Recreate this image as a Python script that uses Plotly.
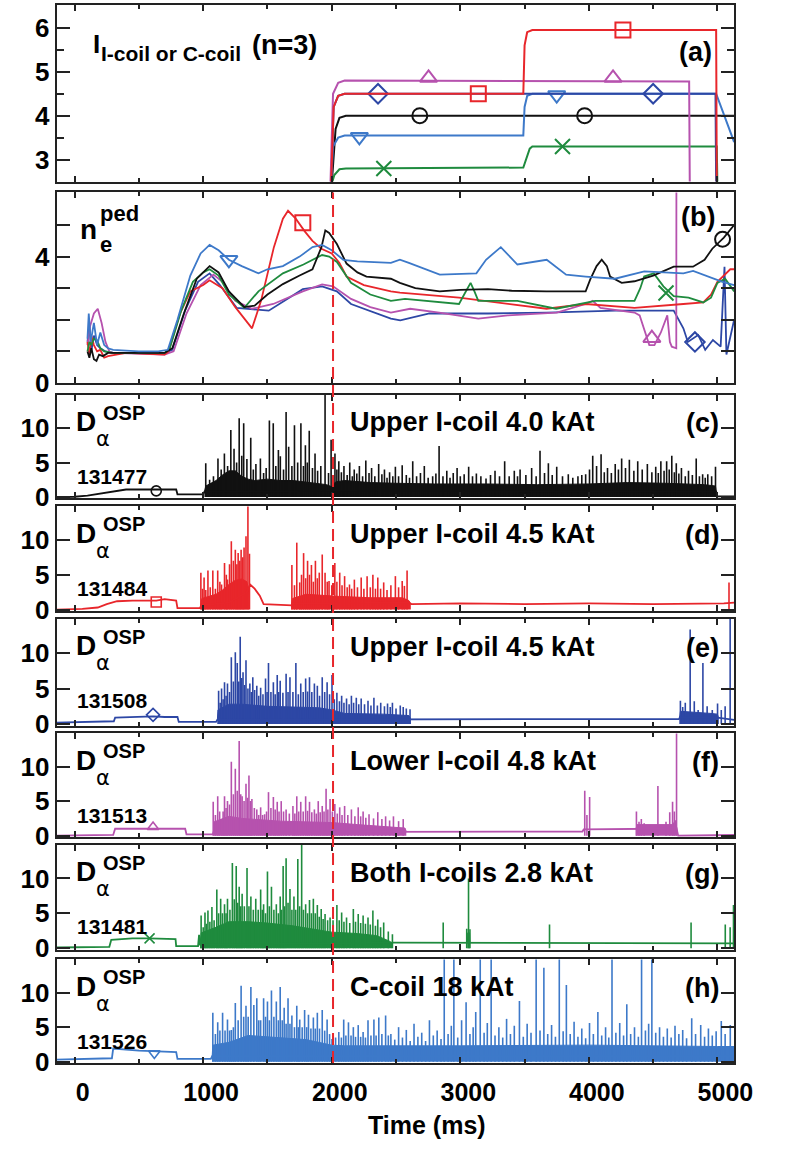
import plotly.graph_objects as go

W, H = 800, 1162

# ---------------- data ----------------
time_tick_vals = [0, 1000, 2000, 3000, 4000, 5000]
time_minor_vals = [500, 1500, 2500, 3500, 4500]
rmp_onset_ms = 2010

# (a) coil current (kA), n=3
a_131477_t = [2000, 2030, 2060, 2110, 5130]
a_131477_v = [2.45, 3.7, 3.95, 4.0, 4.0]
a_131484_t = [1995, 2015, 2050, 2100, 3490, 3500, 3520, 3560, 4990, 4995]
a_131484_v = [2.45, 4.2, 4.45, 4.5, 4.5, 5.6, 5.9, 5.95, 5.95, 2.4]
a_131508_t = [1995, 2015, 2050, 2100, 4985, 4990]
a_131508_v = [2.45, 4.2, 4.45, 4.5, 4.5, 2.4]
a_131513_t = [1990, 2010, 2050, 2100, 4780, 4785]
a_131513_v = [2.45, 4.5, 4.75, 4.8, 4.78, 2.4]
a_131481_t = [2000, 2020, 2060, 2110, 3490, 3540, 3560, 4995, 5000]
a_131481_v = [2.45, 2.65, 2.78, 2.8, 2.82, 3.25, 3.3, 3.3, 2.4]
a_131526_t = [1995, 2010, 2050, 2100, 3490, 3500, 3520, 3560, 4990, 5130]
a_131526_v = [2.45, 3.3, 3.5, 3.55, 3.55, 4.2, 4.45, 4.5, 4.5, 3.4]
a_131477_mk = [(2685, 4.0), (3967, 4.0)]
a_131484_mk = [(3140, 4.5), (4265, 5.95)]
a_131508_mk = [(2360, 4.5), (4500, 4.5)]
a_131513_mk = [(2753, 4.86), (4188, 4.86)]
a_131481_mk = [(2405, 2.8), (3795, 3.3)]
a_131526_mk = [(2215, 3.52), (3750, 4.47)]

# (b) pedestal density
b_131526 = [(100,1.4),(110,2.2),(125,1.3),(150,1.9),(175,1.2),(200,1.6),(230,1.2),(260,1.1),(300,1.05),(500,1.0),(650,1.0),(725,1.05),(800,2.0),(900,3.4),(980,4.1),(1050,4.37),(1120,4.2),(1200,3.9),(1300,3.7),(1430,3.47),(1500,3.6),(1620,3.7),(1750,4.0),(1850,4.3),(1925,4.37),(2000,4.2),(2090,3.9),(2200,3.85),(2460,3.8),(2530,3.9),(2600,3.8),(2840,3.43),(3125,3.47),(3200,3.9),(3315,4.3),(3444,3.75),(3672,3.9),(3823,3.43),(3975,3.37),(4203,3.3),(4431,3.53),(4735,3.47),(4811,3.55),(5039,3.2),(5130,3.1)]
b_131477 = [(100,1.0),(115,0.8),(130,1.1),(150,0.75),(170,0.7),(190,0.9),(220,0.85),(260,0.95),(400,0.95),(700,0.95),(760,1.1),(850,2.2),(950,3.3),(1050,3.7),(1120,3.5),(1200,2.9),(1320,2.4),(1400,2.45),(1500,2.8),(1620,3.13),(1750,3.4),(1850,3.6),(1920,4.3),(1950,4.83),(1980,4.75),(2040,4.4),(2115,3.78),(2200,3.5),(2270,3.37),(2460,3.3),(2530,3.17),(2650,3.0),(2840,2.9),(3000,2.95),(3215,2.97),(3400,2.92),(3670,2.9),(3975,2.9),(4010,3.27),(4060,3.7),(4100,3.9),(4140,3.7),(4165,3.37),(4255,3.17),(4355,3.22),(4500,3.4),(4660,3.68),(4810,3.68),(4900,3.9),(4960,4.25),(5050,4.6),(5130,5.0)]
b_131484 = [(100,1.3),(115,0.9),(130,1.5),(150,1.2),(175,1.0),(200,1.05),(230,0.8),(260,0.85),(400,0.95),(700,0.9),(730,1.0),(820,2.2),(900,2.9),(1000,3.1),(1050,3.25),(1150,3.0),(1250,2.4),(1380,1.73),(1450,2.6),(1550,4.3),(1620,5.2),(1660,5.45),(1720,5.2),(1790,4.8),(1850,4.5),(1920,4.25),(2000,4.1),(2060,3.8),(2115,3.37),(2250,3.1),(2460,2.9),(2530,2.86),(2990,2.7),(3370,2.5),(3670,2.35),(3975,2.5),(4355,2.38),(4735,2.5),(4890,2.55),(4950,2.8),(5000,3.2),(5100,3.6),(5130,3.6)]
b_131481 = [(100,1.0),(115,1.3),(130,1.2),(150,1.4),(175,1.35),(200,1.1),(230,1.0),(300,0.95),(700,0.95),(740,1.1),(830,2.3),(920,3.2),(1000,3.5),(1050,3.6),(1120,3.4),(1200,2.8),(1320,2.38),(1430,2.9),(1620,3.47),(1780,3.75),(1925,4.05),(1980,4.0),(2040,3.83),(2150,3.17),(2300,2.8),(2460,2.6),(2570,2.66),(2910,2.55),(2990,2.5),(3030,2.8),(3080,3.17),(3110,2.9),(3140,2.6),(3444,2.6),(3745,2.35),(4050,2.6),(4355,2.6),(4400,3.0),(4430,3.37),(4505,3.47),(4580,3.06),(4660,2.75),(4775,2.7),(4890,2.55),(4950,2.7),(5000,3.17),(5060,3.3),(5130,2.9)]
b_131513 = [(100,1.2),(120,1.8),(150,2.2),(180,2.35),(210,1.9),(240,1.3),(270,1.0),(300,0.95),(700,0.9),(770,1.0),(870,2.2),(980,3.1),(1080,3.43),(1150,3.2),(1250,2.6),(1380,2.35),(1545,2.5),(1775,2.9),(1925,3.12),(2010,3.06),(2150,2.66),(2300,2.4),(2460,2.23),(2610,2.35),(2836,2.23),(3140,2.04),(3370,2.14),(3750,2.23),(3975,2.5),(4030,2.6),(4090,2.38),(4355,2.23),(4395,2.14),(4470,1.2),(4510,1.2),(4560,1.6),(4610,2.14),(4630,1.3),(4645,1.15),(4680,1.1),(4681,6.5)]
b_131508 = [(100,1.3),(115,1.8),(130,1.0),(150,1.5),(175,1.2),(200,1.1),(240,1.0),(300,0.95),(700,0.95),(760,1.05),(860,2.3),(960,3.2),(1050,3.47),(1130,3.1),(1260,2.38),(1510,2.29),(1775,2.97),(1925,3.06),(2040,2.9),(2150,2.5),(2460,2.04),(2533,1.98),(2760,2.2),(3215,2.2),(3670,2.23),(4205,2.29),(4660,2.29),(4735,1.73),(4770,1.3),(4850,1.52),(4905,1.05),(4965,1.36),(5025,1.15),(5055,3.68),(5070,0.9),(5130,2.0)]
b_131526_mk = [(1200, 3.9)]
b_131477_mk = [(5040, 4.55)]
b_131484_mk = [(1775, 5.07)]
b_131481_mk = [(4600, 2.85)]
b_131513_mk = [(4490, 1.42)]
b_131508_mk = [(4825, 1.3)]

# (c)-(h) D-alpha: slow baseline, dense-ELM envelope segments, individual ELM peaks
c_base = [(-140,0.0),(0,0.05),(100,0.2),(200,0.5),(300,0.9),(400,1.1),(500,1.1),(635,1.1),(700,1.2),(790,1.1),(800,0.4),(1000,0.4),(1010,0.8),(2000,0.9),(4990,0.8),(5000,0.1),(5130,0.1)]
c_band = [[(1010,0.8),(1020,1.6),(1060,2.0),(1100,2.4),(1150,3.2),(1200,3.8),(1250,3.8),(1300,3.0),(1350,2.6),(1400,2.4),(1500,2.6),(1600,2.4),(1700,2.4),(1800,2.2),(1900,2.0),(1960,1.8),(2000,1.5),(2030,2.2),(2100,2.4),(2300,2.1),(2500,2.0),(2800,1.9),(3200,1.9),(3600,1.8),(4000,1.9),(4300,2.1),(4600,2.0),(4900,1.8),(4985,1.6),(4995,0.2)]]
c_elms = [(1020,4.9),(1050,2.5),(1080,3.0),(1115,5.6),(1140,4.0),(1165,6.3),(1190,4.5),(1215,9.7),(1240,7.0),(1260,5.0),(1280,11.4),(1300,6.0),(1315,10.7),(1340,5.5),(1370,8.6),(1390,4.0),(1410,4.8),(1445,5.6),(1470,3.5),(1490,4.2),(1515,11.1),(1545,10.7),(1565,4.5),(1585,6.8),(1600,5.9),(1625,4.0),(1645,12.3),(1665,7.3),(1690,4.5),(1710,10.4),(1735,5.0),(1760,10.7),(1780,4.5),(1795,7.5),(1810,5.0),(1825,9.6),(1850,4.2),(1870,6.3),(1890,3.8),(1915,4.5),(1948,15.0),(1975,3.5),(1995,8.3),(2025,6.3),(2040,4.0),(2055,5.2),(2075,3.6),(2095,4.5),(2120,3.2),(2140,5.0),(2160,3.0),(2175,4.0),(2195,3.4),(2215,4.5),(2240,3.0),(2265,5.3),(2290,3.5),(2310,4.2),(2335,3.0),(2365,4.8),(2390,3.3),(2410,4.0),(2430,2.8),(2450,3.6),(2475,3.0),(2495,4.4),(2520,3.0),(2548,4.6),(2580,3.2),(2605,2.8),(2630,5.2),(2660,3.0),(2690,3.5),(2720,4.5),(2750,2.8),(2785,3.0),(2810,3.4),(2835,7.4),(2865,3.0),(2895,3.8),(2920,2.8),(2945,3.5),(2975,4.2),(3000,3.0),(3030,3.3),(3065,4.4),(3095,3.0),(3125,3.4),(3160,3.0),(3200,2.7),(3235,3.2),(3270,3.8),(3305,3.0),(3345,5.2),(3380,3.0),(3420,3.8),(3445,3.0),(3465,4.0),(3510,3.2),(3555,4.2),(3590,3.0),(3620,6.7),(3655,3.5),(3685,4.9),(3715,3.2),(3750,4.4),(3795,3.0),(3840,3.3),(3875,2.8),(3915,3.0),(3945,3.2),(3975,3.3),(4005,4.0),(4030,6.0),(4060,4.5),(4095,6.2),(4120,3.6),(4145,4.2),(4175,3.5),(4205,4.8),(4230,4.0),(4255,5.6),(4285,4.2),(4315,5.4),(4350,3.8),(4380,5.2),(4415,4.0),(4455,4.8),(4490,3.6),(4520,4.4),(4540,3.5),(4560,5.2),(4585,3.8),(4605,5.2),(4625,4.0),(4645,6.0),(4665,3.6),(4680,4.9),(4700,3.4),(4720,4.2),(4750,3.0),(4775,3.8),(4805,3.2),(4835,5.6),(4860,3.0),(4885,3.3),(4905,2.8),(4925,3.3),(4955,3.0),(4985,4.4)]
c_mk = (635, 0.9)

d_base = [(-140,0.0),(60,0.1),(180,0.3),(250,0.8),(330,1.2),(450,1.3),(635,1.3),(700,1.5),(790,1.3),(800,0.2),(975,0.2),(985,0.6),(1200,1.0),(1340,2.5),(1365,3.6),(1400,3.0),(1440,2.0),(1470,0.8),(1690,0.6),(1700,0.9),(2600,1.0),(2620,0.8),(3000,0.9),(3500,0.8),(4000,0.9),(4500,0.8),(5050,0.9),(5130,1.0)]
d_band = [[(980,0.5),(990,1.6),(1100,2.2),(1150,2.8),(1200,3.6),(1250,4.2),(1300,4.4),(1340,4.0),(1352,3.0),(1356,0.5)],
          [(1685,0.5),(1695,1.6),(1800,2.2),(1950,2.0),(2050,1.9),(2300,1.7),(2550,1.7),(2600,1.3),(2615,0.8)]]
d_elms = [(982,5.3),(995,3.0),(1007,4.6),(1020,2.8),(1037,5.6),(1055,3.2),(1075,5.6),(1095,3.0),(1113,5.6),(1130,4.0),(1143,3.6),(1166,6.7),(1180,5.0),(1189,4.3),(1205,6.5),(1219,9.8),(1235,7.0),(1250,8.6),(1262,6.5),(1272,8.1),(1285,7.0),(1295,8.6),(1308,7.5),(1318,8.9),(1333,10.5),(1348,15.0),(1360,8.0),(1690,6.4),(1710,3.5),(1728,9.6),(1751,3.9),(1765,5.0),(1781,8.1),(1797,4.5),(1812,7.0),(1827,5.0),(1842,6.4),(1857,4.0),(1873,7.0),(1888,4.5),(1903,5.3),(1926,7.9),(1948,5.3),(1965,4.0),(1979,4.1),(2000,3.5),(2024,6.7),(2040,4.0),(2062,5.3),(2080,3.5),(2100,4.8),(2120,3.2),(2138,3.6),(2155,3.0),(2176,4.3),(2200,3.2),(2229,4.6),(2250,3.0),(2275,4.8),(2300,3.2),(2320,5.0),(2340,3.0),(2358,4.6),(2380,3.0),(2404,3.9),(2430,2.8),(2460,3.5),(2495,4.8),(2520,3.2),(2548,4.1),(2565,3.4),(2586,5.6),(5090,3.9)]
d_mk = (635, 1.1)

e_base = [(-140,0.2),(200,0.3),(305,0.4),(315,0.9),(500,1.0),(610,1.1),(700,1.0),(800,1.0),(810,0.3),(1100,0.3),(1110,0.6),(2620,0.7),(3500,0.7),(4700,0.7),(4710,1.0),(5000,0.9),(5130,0.6)]
e_band = [[(1110,0.5),(1115,2.0),(1200,2.8),(1300,2.8),(1500,2.5),(1900,2.3),(2000,2.0),(2100,1.5),(2400,1.4),(2600,1.2),(2615,0.7)],
          [(4705,0.8),(4712,1.8),(4950,1.5),(5000,1.4),(5010,0.8)]]
e_elms = [(1120,4.7),(1132,3.0),(1143,5.0),(1155,3.5),(1166,5.9),(1178,4.0),(1189,5.7),(1205,4.5),(1219,9.4),(1235,6.0),(1250,10.1),(1265,8.6),(1277,6.0),(1288,12.3),(1300,6.5),(1310,7.3),(1322,5.5),(1333,9.0),(1348,5.0),(1363,5.7),(1375,4.5),(1386,6.6),(1400,4.8),(1417,5.4),(1432,4.0),(1447,5.1),(1465,4.2),(1485,6.4),(1497,4.5),(1508,8.6),(1527,4.5),(1546,5.9),(1560,4.2),(1576,6.9),(1588,4.5),(1599,6.1),(1620,4.4),(1645,7.1),(1660,4.5),(1675,6.6),(1698,4.5),(1721,8.6),(1740,4.2),(1759,5.7),(1778,4.5),(1797,6.4),(1812,4.6),(1827,6.6),(1845,4.5),(1865,5.7),(1888,5.4),(1905,4.0),(1926,6.6),(1945,4.5),(1964,5.9),(1983,4.2),(2002,6.9),(2020,3.5),(2040,4.4),(2060,3.2),(2077,4.0),(2095,3.0),(2115,3.6),(2135,2.8),(2153,4.0),(2170,3.0),(2191,3.7),(2210,2.8),(2229,3.6),(2255,2.8),(2282,3.3),(2305,2.6),(2328,3.7),(2355,2.6),(2381,3.0),(2410,2.5),(2434,2.9),(2455,2.4),(2472,3.0),(2500,2.2),(2533,2.6),(2556,2.4),(2580,2.2),(2609,2.1),(4712,3.3),(4730,2.4),(4750,3.0),(4788,13.3),(4820,3.2),(4850,2.0),(4887,8.6),(4920,2.5),(4960,2.0),(5001,2.9),(5030,2.0),(5060,2.5),(5099,15.0)]
e_mk = (610, 1.3)

f_base = [(-140,0.0),(300,0.1),(315,1.0),(500,1.0),(610,1.1),(700,1.1),(860,1.0),(870,0.2),(1075,0.2),(1080,0.5),(2580,0.6),(3950,0.6),(3960,0.9),(4350,0.9),(4500,1.0),(4680,1.2),(4695,0.0),(5130,0.1)]
f_band = [[(1080,0.5),(1085,2.0),(1200,2.8),(1300,2.5),(1600,2.1),(2000,1.9),(2200,1.6),(2450,1.3),(2570,1.1),(2580,0.6)],
          [(4365,0.9),(4375,1.6),(4650,1.6),(4675,2.2),(4690,0.2)]]
f_elms = [(1078,4.9),(1095,3.0),(1113,5.7),(1128,3.5),(1143,2.4),(1155,3.5),(1166,5.7),(1178,4.0),(1189,5.0),(1205,4.5),(1219,10.7),(1235,6.0),(1250,9.7),(1265,6.5),(1280,13.7),(1292,6.0),(1303,5.7),(1318,5.0),(1333,7.5),(1345,5.5),(1356,8.7),(1368,5.0),(1379,5.3),(1398,4.0),(1417,3.8),(1432,3.0),(1447,4.1),(1462,3.0),(1478,3.1),(1493,3.5),(1508,6.3),(1527,4.0),(1546,5.6),(1560,3.8),(1576,4.9),(1590,3.5),(1607,5.0),(1625,3.5),(1645,3.8),(1670,3.2),(1698,4.3),(1713,3.2),(1728,5.7),(1743,3.5),(1759,4.9),(1778,3.5),(1797,5.7),(1812,3.6),(1827,4.9),(1845,3.4),(1865,3.8),(1880,3.2),(1895,5.0),(1910,3.4),(1926,4.3),(1940,3.5),(1956,6.8),(1970,3.8),(1987,5.3),(2005,3.5),(2024,4.6),(2043,3.2),(2062,4.1),(2080,3.0),(2100,4.3),(2125,3.0),(2153,3.8),(2180,2.8),(2206,4.1),(2225,2.8),(2244,3.5),(2265,2.6),(2290,3.1),(2325,2.5),(2358,3.4),(2390,2.4),(2419,2.8),(2450,2.2),(2480,2.8),(2520,2.1),(2556,2.4),(3968,6.5),(3985,3.0),(4006,5.6),(4370,3.5),(4390,2.0),(4408,2.4),(4430,1.8),(4537,7.2),(4600,2.0),(4629,3.4),(4651,4.9),(4665,3.5),(4682,15.0)]
f_mk = (610, 1.25)

g_base = [(-140,0.1),(270,0.2),(285,1.2),(450,1.4),(580,1.4),(700,1.3),(785,1.3),(790,0.3),(960,0.3),(968,1.9),(975,0.5),(2480,0.8),(5130,0.7)]
g_band = [[(975,0.5),(985,2.2),(1100,3.0),(1200,3.8),(1350,3.8),(1500,3.6),(1700,3.2),(1900,2.6),(2000,2.3),(2200,2.1),(2350,1.8),(2450,1.0),(2470,0.7)],
          [(3055,0.7),(3058,2.2),(3072,2.2),(3075,0.7)]]
g_elms = [(984,4.7),(1000,3.0),(1014,5.1),(1025,3.5),(1037,5.4),(1052,3.8),(1068,5.9),(1085,4.0),(1106,8.4),(1120,5.0),(1136,7.1),(1150,5.0),(1166,6.3),(1178,5.0),(1189,7.1),(1208,5.5),(1227,12.2),(1242,7.0),(1257,11.8),(1268,6.5),(1280,8.8),(1292,6.0),(1303,7.8),(1320,6.0),(1341,11.5),(1356,6.0),(1371,7.4),(1390,5.5),(1409,7.1),(1428,5.5),(1447,8.4),(1460,5.5),(1470,6.3),(1485,5.0),(1500,11.0),(1515,6.0),(1531,8.8),(1550,5.5),(1569,6.3),(1585,5.0),(1599,7.4),(1610,5.5),(1622,11.8),(1633,6.0),(1645,12.9),(1660,6.5),(1675,8.5),(1690,5.5),(1706,7.4),(1720,5.5),(1736,12.8),(1750,6.0),(1766,15.0),(1780,5.5),(1797,6.3),(1812,5.0),(1827,6.9),(1842,5.0),(1857,7.1),(1872,5.0),(1888,6.2),(1903,4.5),(1918,5.6),(1933,4.2),(1948,4.9),(1968,4.0),(1987,4.4),(2010,4.0),(2040,6.2),(2058,4.0),(2077,5.1),(2095,3.8),(2115,4.4),(2140,3.6),(2168,5.6),(2185,3.8),(2206,4.9),(2225,3.6),(2244,4.7),(2262,3.5),(2282,4.4),(2300,3.4),(2320,5.4),(2340,3.2),(2358,4.1),(2380,3.0),(2404,3.7),(2440,2.4),(2472,2.0),(2867,3.7),(3050,2.8),(3064,10.0),(3075,2.7),(3694,3.4),(4795,3.7),(5061,3.4),(5099,3.0),(5125,6.2)]
g_mk = (583, 1.4)

h_base = [(-140,0.3),(0,0.4),(290,0.5),(300,1.9),(400,1.7),(500,1.6),(650,1.5),(790,1.4),(800,0.4),(1060,0.4),(1070,0.8),(5130,0.8)]
h_band = [[(1070,0.8),(1075,2.4),(1200,2.8),(1350,3.8),(1500,3.6),(1800,3.2),(2000,2.4),(2100,2.3),(3000,2.3),(4000,2.4),(5000,2.2),(5130,2.2)]]
h_elms = [(1075,7.1),(1095,4.0),(1113,5.7),(1130,4.5),(1151,7.1),(1170,4.5),(1189,6.1),(1205,4.5),(1219,4.6),(1235,5.0),(1250,8.5),(1272,6.0),(1295,11.0),(1315,6.5),(1333,8.1),(1350,6.5),(1371,10.8),(1394,8.2),(1417,9.2),(1432,6.0),(1447,6.0),(1470,9.2),(1485,6.5),(1500,8.7),(1515,6.0),(1531,10.3),(1550,6.5),(1569,8.7),(1585,6.0),(1599,10.8),(1615,6.0),(1630,7.8),(1645,5.5),(1660,9.2),(1675,5.5),(1690,6.7),(1710,5.0),(1728,8.1),(1740,5.0),(1751,6.1),(1770,5.0),(1789,7.5),(1805,5.0),(1819,6.8),(1838,4.8),(1857,6.4),(1872,4.8),(1888,7.1),(1905,4.8),(1926,7.5),(1945,4.5),(1964,6.1),(1983,4.0),(2002,3.3),(2030,3.5),(2055,4.3),(2075,3.5),(2093,6.1),(2110,3.8),(2130,5.7),(2150,3.8),(2168,5.0),(2185,3.6),(2206,5.3),(2225,3.6),(2244,4.3),(2262,3.5),(2282,6.0),(2305,3.8),(2328,6.1),(2345,3.8),(2366,6.4),(2390,4.0),(2419,6.7),(2440,3.8),(2460,4.0),(2490,3.2),(2520,5.0),(2550,3.5),(2580,4.6),(2610,3.0),(2640,5.5),(2670,3.6),(2700,4.2),(2730,3.0),(2760,6.0),(2790,3.8),(2820,4.5),(2850,3.3),(2875,15.0),(2905,4.0),(2930,5.2),(2950,15.0),(2980,3.5),(3010,6.0),(3045,8.6),(3075,4.0),(3100,5.0),(3120,7.2),(3155,15.0),(3185,4.2),(3210,5.6),(3240,15.0),(3270,3.8),(3300,5.0),(3330,3.5),(3360,6.2),(3390,4.0),(3420,5.2),(3460,8.8),(3490,3.6),(3520,5.5),(3550,4.2),(3590,15.0),(3620,4.5),(3650,13.6),(3680,4.0),(3710,5.3),(3740,3.6),(3770,15.0),(3800,4.4),(3825,11.1),(3855,4.0),(3885,5.8),(3915,3.6),(3945,4.8),(3975,3.4),(4005,5.6),(4035,4.0),(4070,7.2),(4100,3.8),(4130,5.0),(4155,3.5),(4180,15.0),(4210,4.2),(4240,5.6),(4270,3.8),(4295,8.3),(4325,4.0),(4355,5.0),(4385,3.6),(4410,15.0),(4440,4.5),(4465,5.5),(4490,15.0),(4520,4.2),(4550,5.0),(4580,3.6),(4610,4.8),(4640,3.5),(4670,5.2),(4700,4.0),(4730,4.6),(4760,3.4),(4800,6.3),(4830,4.0),(4870,5.3),(4900,3.6),(4930,4.8),(4960,3.8),(4990,4.4),(5030,5.9),(5060,4.0),(5100,5.3)]
h_mk = (620, 1.2)

shot_labels = ['131477', '131484', '131508', '131513', '131481', '131526']
coil_labels = ['Upper I-coil 4.0 kAt', 'Upper I-coil 4.5 kAt', 'Upper I-coil 4.5 kAt',
               'Lower I-coil 4.8 kAt', 'Both I-coils 2.8 kAt', 'C-coil 18 kAt']
panel_letters = ['(a)', '(b)', '(c)', '(d)', '(e)', '(f)', '(g)', '(h)']

# ---------------- styling ----------------
BLACK = '#111111'; RED = '#e8262b'; DBLUE = '#2d47a5'
MAG = '#b652ae'; GREEN = '#1f8b3e'; LBLUE = '#3d79c9'
FONT = 'Liberation Sans'

tops = [5, 195, 400, 513, 627, 743, 856, 972]
bots = [184, 388, 505, 619, 735, 848, 962, 1077]
XL, XR = 58, 752
XRANGE = [-140, 5130]

fig = go.Figure()

def sfx(n):
    return '' if n == 1 else str(n)

def split(pairs):
    xs, ys = [], []
    for p in pairs:
        xs.append(p[0]); ys.append(p[1])
    return xs, ys

for i in range(8):
    n = i + 1
    xa = dict(domain=[XL / W, XR / W], anchor='y' + sfx(n), range=XRANGE,
              showline=True, linewidth=2, linecolor='#222', mirror='allticks',
              ticks='inside', ticklen=6, tickwidth=1.5, tickcolor='#222',
              tickvals=time_tick_vals, showgrid=False, zeroline=False,
              minor=dict(tickvals=time_minor_vals, ticks='inside', ticklen=4, tickcolor='#222'),
              showticklabels=(n == 8),
              tickfont=dict(family=FONT, size=25, color='black', weight='bold'),
              ticklabelshift=8, ticklabelstandoff=6)
    if n > 1:
        xa['matches'] = 'x'
    ya = dict(domain=[1 - bots[i] / H, 1 - tops[i] / H], anchor='x' + sfx(n),
              showline=True, linewidth=2, linecolor='#222', mirror='allticks',
              ticks='inside', ticklen=13, tickwidth=1.5, tickcolor='#222',
              showgrid=False, zeroline=False,
              tickfont=dict(family=FONT, size=26, color='black', weight='bold'))
    if n == 1:
        ya.update(range=[2.5, 6.52], tickvals=[3, 4, 5, 6],
                  minor=dict(tickvals=[3.5, 4.5, 5.5], ticks='inside', ticklen=7, tickcolor='#222'))
    elif n == 2:
        ya.update(range=[0, 6.03], tickvals=[0, 1, 2, 3, 4, 5], ticktext=['0', '', '', '', '4', ''])
    else:
        ya.update(range=[-0.2, 14.8], tickvals=[0, 5, 10])
    fig.update_layout({'xaxis' + sfx(n): xa, 'yaxis' + sfx(n): ya})

# panel (a)
a_series = [
    (a_131477_t, a_131477_v, a_131477_mk, BLACK, 'circle-open'),
    (a_131481_t, a_131481_v, a_131481_mk, GREEN, 'x-thin'),
    (a_131526_t, a_131526_v, a_131526_mk, LBLUE, 'triangle-down-open'),
    (a_131508_t, a_131508_v, a_131508_mk, DBLUE, 'diamond-open'),
    (a_131513_t, a_131513_v, a_131513_mk, MAG, 'triangle-up-open'),
    (a_131484_t, a_131484_v, a_131484_mk, RED, 'square-open'),
]
for t, v, mk, col, sym in a_series:
    fig.add_trace(go.Scatter(x=t, y=v, mode='lines', line=dict(color=col, width=2),
                             xaxis='x', yaxis='y', showlegend=False, hoverinfo='skip'))
    mx, my = split(mk)
    fig.add_trace(go.Scatter(x=mx, y=my, mode='markers',
                             marker=dict(symbol=sym, size=15, color=col, line=dict(color=col, width=2)),
                             xaxis='x', yaxis='y', showlegend=False, hoverinfo='skip'))

# panel (b)
b_series = [
    (b_131508, b_131508_mk, DBLUE, 'diamond-open'),
    (b_131513, b_131513_mk, MAG, 'triangle-up-open'),
    (b_131484, b_131484_mk, RED, 'square-open'),
    (b_131481, b_131481_mk, GREEN, 'x-thin'),
    (b_131477, b_131477_mk, BLACK, 'circle-open'),
    (b_131526, b_131526_mk, LBLUE, 'triangle-down-open'),
]
for data, mk, col, sym in b_series:
    x, y = split(data)
    fig.add_trace(go.Scatter(x=x, y=y, mode='lines', line=dict(color=col, width=1.8),
                             xaxis='x2', yaxis='y2', showlegend=False, hoverinfo='skip'))
    mx, my = split(mk)
    fig.add_trace(go.Scatter(x=mx, y=my, mode='markers',
                             marker=dict(symbol=sym, size=15, color=col, line=dict(color=col, width=2)),
                             xaxis='x2', yaxis='y2', showlegend=False, hoverinfo='skip'))

# panels (c)-(h)
d_panels = [
    (c_base, c_band, c_elms, c_mk, BLACK, 'circle-open'),
    (d_base, d_band, d_elms, d_mk, RED, 'square-open'),
    (e_base, e_band, e_elms, e_mk, DBLUE, 'diamond-open'),
    (f_base, f_band, f_elms, f_mk, MAG, 'triangle-up-open'),
    (g_base, g_band, g_elms, g_mk, GREEN, 'x-thin'),
    (h_base, h_band, h_elms, h_mk, LBLUE, 'triangle-down-open'),
]
for k, (base, band, elms, mk, col, sym) in enumerate(d_panels):
    n = k + 3
    xr, yr = 'x' + sfx(n), 'y' + sfx(n)
    for seg in band:
        bx, by = split(seg)
        fig.add_trace(go.Scatter(x=bx, y=by, mode='lines', fill='tozeroy', fillcolor=col,
                                 line=dict(color=col, width=1),
                                 xaxis=xr, yaxis=yr, showlegend=False, hoverinfo='skip'))
    sx, sy = [], []
    for t, v in elms:
        sx += [t, t, None]
        sy += [0, v, None]
    fig.add_trace(go.Scatter(x=sx, y=sy, mode='lines', line=dict(color=col, width=1.6),
                             xaxis=xr, yaxis=yr, showlegend=False, hoverinfo='skip'))
    lx, ly = split(base)
    fig.add_trace(go.Scatter(x=lx, y=ly, mode='lines', line=dict(color=col, width=1.8),
                             xaxis=xr, yaxis=yr, showlegend=False, hoverinfo='skip'))
    fig.add_trace(go.Scatter(x=[mk[0]], y=[mk[1]], mode='markers',
                             marker=dict(symbol=sym, size=10, color=col, line=dict(color=col, width=1.6)),
                             xaxis=xr, yaxis=yr, showlegend=False, hoverinfo='skip'))

# red dashed line marking RMP onset
fig.add_shape(type='line', xref='x', yref='paper', x0=rmp_onset_ms, x1=rmp_onset_ms,
              y0=1 - bots[7] / H, y1=1 - tops[1] / H,
              line=dict(color=RED, width=2, dash='12px,6px'))

def px2x(px): return px / W
def py2y(py): return 1 - py / H

ann = []
def text(s, px, py, size, xanchor='left', weight='bold', family=FONT):
    ann.append(dict(text=s, x=px2x(px), y=py2y(py), xref='paper', yref='paper',
                    xanchor=xanchor, yanchor='middle', showarrow=False,
                    font=dict(family=family, size=size, color='black', weight=weight)))

# (a) label
text('I', 93, 45, 26)
text('I-coil or C-coil', 101, 54, 21)
text('(n=3)', 256, 46, 27)
text(panel_letters[0], 731, 53, 27, xanchor='right')
# (b) label
text('n', 80, 233, 28)
text('e', 100, 248, 22)
text('ped', 100, 216, 22)
text(panel_letters[1], 734, 220, 27, xanchor='right')
# (c)-(h) labels
for k in range(6):
    top = tops[k + 2]
    text('D', 88, top + 27, 28, xanchor='center')
    text('OSP', 103, top + 18, 20)
    text('α', 106, top + 45, 21, xanchor='center', weight='normal', family='DejaVu Sans')
    text(shot_labels[k], 77, top + 83, 21)
    text(coil_labels[k], 356, top + 28, 27)
    text(panel_letters[k + 2], 739, top + 29, 27, xanchor='right')
# x title
text('Time (ms)', 437, 1140, 25, xanchor='center')

fig.update_layout(width=W, height=H, margin=dict(l=0, r=0, t=0, b=0),
                  paper_bgcolor='white', plot_bgcolor='white',
                  font=dict(family=FONT, color='black'),
                  annotations=ann, showlegend=False)

fig.write_html('out.html')
